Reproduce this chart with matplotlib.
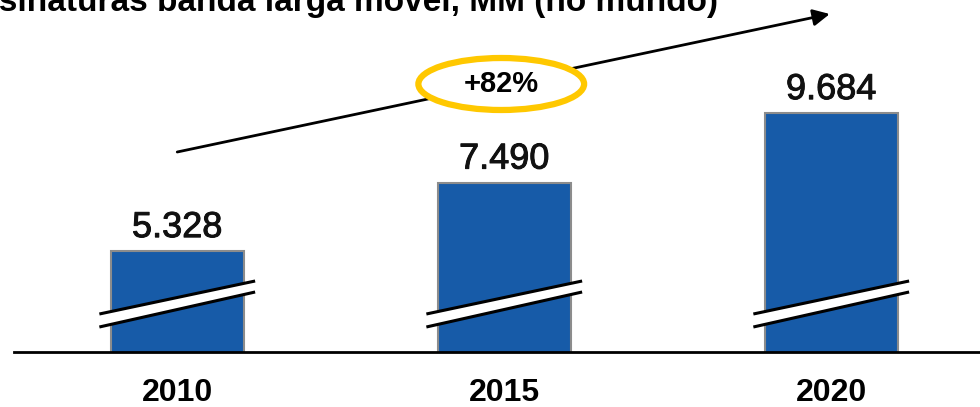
import numpy as np
import matplotlib as mpl
mpl.use("agg")
mpl.rcParams['font.family'] = ['Liberation Sans', 'DejaVu Sans']
import matplotlib.pyplot as plt
import matplotlib.patheffects as pe
from matplotlib.patches import Ellipse, Polygon

years = ["2010", "2015", "2020"]
subs = [5328, 7490, 9684]
value_labels = ["5.328", "7.490", "9.684"]
growth_label = "+82%"
title = "Assinaturas banda larga móvel, MM (no mundo)"

W, H = 980, 407
fig = plt.figure(figsize=(W/100, H/100), dpi=100)
# axes: from x=14px to the right edge, from the baseline (y=352px) to the top
ax = fig.add_axes([14/W, (H-352)/H, 1 - 14/W, 352/H])

# broken axis: baseline sits at 2140, 1 px ~ 31.6 units
ymin = 2140
scale = 0.03168  # px per unit
ax.set_ylim(ymin, ymin + 352/scale)
px_x = 327.5  # px per category
ax.set_xlim(-(177.5-14)/px_x, 2 + (980-831)/px_x)

x = np.arange(len(years))
bar_w = 133/px_x
bars = ax.bar(x, subs, width=bar_w, color="#175ba8", edgecolor="#8c8c8c",
              linewidth=1.5, zorder=2)

medium = [pe.withStroke(linewidth=0.7, foreground="#111111")]
for xi, v, lab in zip(x, subs, value_labels):
    ax.annotate(lab, (xi, v), xytext=(0, 10), textcoords="offset points",
                ha="center", va="baseline", fontsize=26, color="#111111",
                path_effects=medium)

# break marks on every bar
def py(p):
    return ymin + (352 - p)/scale

half = 78/px_x
for xi in x:
    xl, xr = xi - half, xi + half
    up = [py(314), py(281)]
    lo = [py(327), py(292)]
    band = Polygon([(xl, up[0]), (xr, up[1]), (xr, lo[1]), (xl, lo[0])],
                   closed=True, facecolor="white", edgecolor="none", zorder=3)
    ax.add_patch(band)
    ax.plot([xl, xr], up, color="black", lw=2.2, zorder=4, solid_capstyle="butt")
    ax.plot([xl, xr], lo, color="black", lw=2.2, zorder=4, solid_capstyle="butt")

# growth arrow + ellipse
ax.annotate("", xy=(2 - 1.5/px_x, py(14)), xytext=(0, py(152)),
            arrowprops=dict(arrowstyle="-|>,head_length=1.0,head_width=0.5",
                            color="black", lw=2, shrinkA=0, shrinkB=0),
            annotation_clip=False, zorder=1)
ell = Ellipse((1 - 3/px_x, py(84)), 166/px_x, 52/scale, facecolor="white",
              edgecolor="#ffc800", lw=4.5, zorder=5)
ax.add_patch(ell)
ax.text(1 - 3/px_x, py(84), growth_label, ha="center", va="center",
        fontsize=21, fontweight="bold", zorder=6)

for s in ["top", "right", "left"]:
    ax.spines[s].set_visible(False)
ax.spines["bottom"].set_linewidth(2)
ax.spines["bottom"].set_zorder(5)
ax.set_yticks([])
ax.set_xticks(x)
ax.set_xticklabels(years, fontsize=23, fontweight="bold")
ax.tick_params(axis="x", length=0, pad=19)

fig.text(718/W, (H-11)/H, title, ha="right", va="baseline",
         fontsize=24, fontweight="bold")

fig.savefig("out.png", dpi=100)
